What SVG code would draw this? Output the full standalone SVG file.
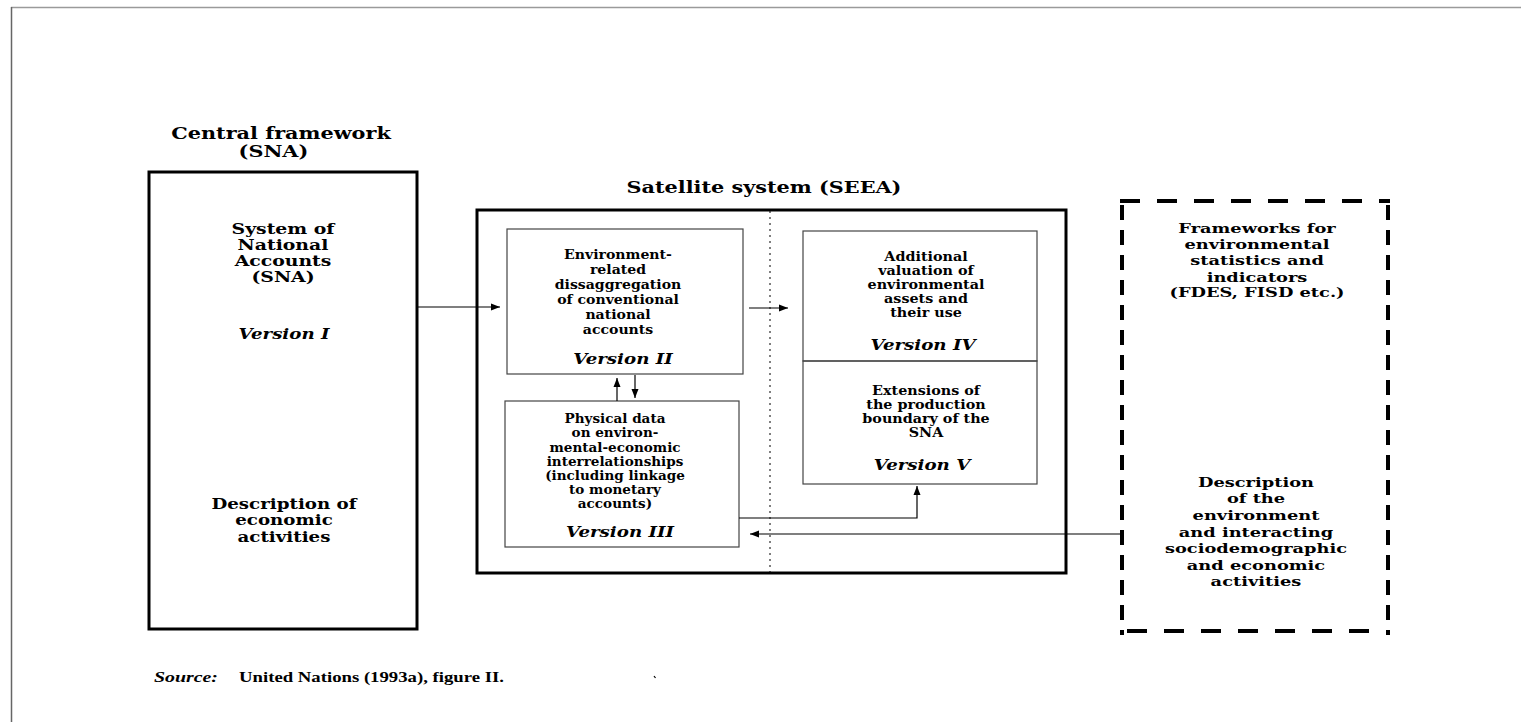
<svg xmlns="http://www.w3.org/2000/svg" width="1521" height="722" viewBox="0 0 1521 722">
<defs>
<marker id="ah" markerUnits="userSpaceOnUse" markerWidth="10" markerHeight="8" refX="9" refY="4" orient="auto">
<path d="M0,0.5 L9,4 L0,7.5 Z" fill="#000"/>
</marker>
<style>
.t{font-family:"DejaVu Serif","Liberation Serif",serif;font-weight:bold;fill:#000;text-anchor:middle}
.ti{font-size:16.5px}
.big{font-size:14.7px}
.sm{font-size:12.8px}
.md{font-size:13.7px}
.ver{font-family:"DejaVu Serif","Liberation Serif",serif;font-weight:bold;font-style:italic;font-size:14px;text-anchor:middle;fill:#000}
.thick{fill:none;stroke:#000;stroke-width:3}
.thin{fill:none;stroke:#444;stroke-width:1.2}
.con{fill:none;stroke:#000;stroke-width:1.2}
.dv{stroke:#000;stroke-width:4;stroke-dasharray:15 10;fill:none}
.dh{stroke:#000;stroke-width:4;stroke-dasharray:20 17;fill:none}
.src{font-family:"Liberation Serif",serif;font-weight:bold;font-size:15px;fill:#000}
</style>
</defs>
<rect width="1521" height="722" fill="#fff"/>
<g id="page-border">
<line x1="11" y1="7.5" x2="1521" y2="7.5" stroke="#9a9a9a" stroke-width="1.5"/>
<line x1="11.5" y1="7" x2="11.5" y2="722" stroke="#666" stroke-width="1.5"/>
</g>

<g id="sna">
<text class="t ti" transform="translate(281,0) scale(1.26,1)"><tspan x="0" y="139">Central framework</tspan><tspan x="-6" y="157">(SNA)</tspan></text>
<rect class="thick" x="149" y="172" width="268" height="457"/>
<text class="t big" transform="translate(283,0) scale(1.28,1)"><tspan x="0" y="234">System of</tspan><tspan x="0" y="250">National</tspan><tspan x="0" y="266">Accounts</tspan><tspan x="0" y="282">(SNA)</tspan></text>
<text class="ver" transform="translate(284,339) scale(1.3,1)">Version I</text>
<text class="t big" transform="translate(284,0) scale(1.24,1)"><tspan x="0" y="509">Description of</tspan><tspan x="0" y="525">economic</tspan><tspan x="0" y="542">activities</tspan></text>
</g>

<g id="seea">
<text class="t ti" transform="translate(764,193) scale(1.26,1)">Satellite system (SEEA)</text>
<rect class="thick" x="477" y="210" width="589" height="363"/>
<line x1="770" y1="211" x2="770" y2="572" stroke="#000" stroke-width="1" stroke-dasharray="2 4"/>
</g>

<g id="version-ii">
<rect class="thin" x="507" y="229" width="236" height="145"/>
<text class="t sm" transform="translate(618,0) scale(1.1,1)"><tspan x="0" y="259">Environment-</tspan><tspan x="0" y="274">related</tspan><tspan x="0" y="289">dissaggregation</tspan><tspan x="0" y="304">of conventional</tspan><tspan x="0" y="319">national</tspan><tspan x="0" y="334">accounts</tspan></text>
<text class="ver" transform="translate(623,364) scale(1.3,1)">Version II</text>
</g>

<g id="version-iii">
<rect class="thin" x="505" y="401" width="234" height="146"/>
<text class="t sm" transform="translate(615,0) scale(1.06,1)"><tspan x="0" y="423">Physical data</tspan><tspan x="0" y="437">on environ-</tspan><tspan x="0" y="452">mental-economic</tspan><tspan x="0" y="466">interrelationships</tspan><tspan x="0" y="480">(including linkage</tspan><tspan x="0" y="494">to monetary</tspan><tspan x="0" y="508">accounts)</tspan></text>
<text class="ver" transform="translate(620,537) scale(1.3,1)">Version III</text>
</g>

<g id="version-iv">
<rect class="thin" x="803" y="231" width="234" height="130"/>
<text class="t sm" transform="translate(926,0) scale(1.12,1)"><tspan x="0" y="261">Additional</tspan><tspan x="0" y="275">valuation of</tspan><tspan x="0" y="289">environmental</tspan><tspan x="0" y="303">assets and</tspan><tspan x="0" y="317">their use</tspan></text>
<text class="ver" transform="translate(923,350) scale(1.3,1)">Version IV</text>
</g>

<g id="version-v">
<rect class="thin" x="803" y="361" width="234" height="123"/>
<text class="t sm" transform="translate(926,0) scale(1.12,1)"><tspan x="0" y="395">Extensions of</tspan><tspan x="0" y="409">the production</tspan><tspan x="0" y="423">boundary of the</tspan><tspan x="0" y="437">SNA</tspan></text>
<text class="ver" transform="translate(922,470) scale(1.3,1)">Version V</text>
</g>

<g id="frameworks">
<line class="dh" x1="1120" y1="201" x2="1390" y2="201"/>
<line class="dh" x1="1127" y1="631" x2="1385" y2="631"/>
<line class="dv" x1="1122" y1="205" x2="1122" y2="635"/>
<line class="dv" x1="1388" y1="205" x2="1388" y2="635"/>
<text class="t md" transform="translate(1257,0) scale(1.3,1)"><tspan x="0" y="233">Frameworks for</tspan><tspan x="0" y="249">environmental</tspan><tspan x="0" y="265">statistics and</tspan><tspan x="0" y="282">indicators</tspan><tspan x="0" y="297">(FDES, FISD etc.)</tspan></text>
<text class="t md" transform="translate(1256,0) scale(1.3,1)"><tspan x="0" y="487">Description</tspan><tspan x="0" y="503">of the</tspan><tspan x="0" y="520">environment</tspan><tspan x="0" y="537">and interacting</tspan><tspan x="0" y="553">sociodemographic</tspan><tspan x="0" y="570">and economic</tspan><tspan x="0" y="586">activities</tspan></text>
</g>

<g id="connectors">
<line class="con" x1="417" y1="307" x2="500" y2="307" marker-end="url(#ah)"/>
<line class="con" x1="749" y1="308" x2="788" y2="308" marker-end="url(#ah)"/>
<line class="con" x1="617" y1="401" x2="617" y2="378" marker-end="url(#ah)"/>
<line class="con" x1="635" y1="375" x2="635" y2="398" marker-end="url(#ah)"/>
<polyline class="con" points="739,518 917,518 917,486" marker-end="url(#ah)"/>
<line class="con" x1="1120" y1="534" x2="750" y2="534" marker-end="url(#ah)"/>
</g>

<g id="source">
<text class="src" x="154" y="682" font-style="italic" textLength="64" lengthAdjust="spacingAndGlyphs">Source:</text>
<text class="src" x="239" y="682" textLength="265" lengthAdjust="spacingAndGlyphs">United Nations (1993a), figure II.</text>
<line x1="654" y1="676" x2="655.5" y2="678" stroke="#000" stroke-width="1.2"/>
</g>
</svg>
